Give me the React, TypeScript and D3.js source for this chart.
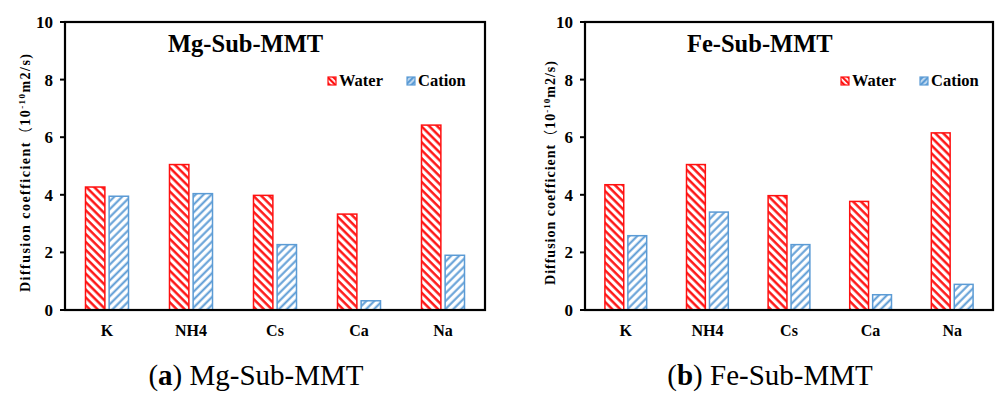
import React from "react";
import * as d3 from "d3";

const categories = ["K", "NH4", "Cs", "Ca", "Na"];
const seriesNames = ["Water", "Cation"];
const mgWater = [4.27, 5.05, 3.98, 3.33, 6.42];
const mgCation = [3.95, 4.04, 2.27, 0.32, 1.9];
const feWater = [4.35, 5.05, 3.97, 3.77, 6.15];
const feCation = [2.58, 3.4, 2.27, 0.53, 0.89];
const yTicks = [0, 2, 4, 6, 8, 10];

const RED = "#ff1010";
const BLUE = "#5b9bd5";
const SERIF = "Liberation Serif, Tinos, Times New Roman, DejaVu Serif, serif";

type PanelProps = {
  left: number;
  right: number;
  title: string;
  titleX: number;
  legendX: number;
  water: number[];
  cation: number[];
  yTitleX: number;
  yTitleLen: number;
  caption: string;
  captionLetter: string;
  captionX: number;
};

function Panel(p: PanelProps) {
  const top = 22;
  const bottom = 310;
  const y = d3.scaleLinear().domain([0, 10]).range([bottom, top]);
  const x0 = d3
    .scaleBand<string>()
    .domain(categories)
    .range([p.left, p.right])
    .paddingInner(0.488)
    .paddingOuter(0.244);
  const x1 = d3
    .scaleBand<string>()
    .domain(seriesNames)
    .range([0, x0.bandwidth()])
    .paddingInner(0.18);
  const series = [
    { name: "Water", vals: p.water, color: RED, pat: "hatchRed" },
    { name: "Cation", vals: p.cation, color: BLUE, pat: "hatchBlue" },
  ];
  const yMid = (top + bottom) / 2 + 7;
  return (
    <g>
      {series.map((s) =>
        categories.map((c, i) => {
          const bx = (x0(c) as number) + (x1(s.name) as number);
          const by = y(s.vals[i]);
          return (
            <rect
              key={s.name + c}
              x={bx}
              y={by}
              width={x1.bandwidth()}
              height={bottom - by}
              fill={`url(#${s.pat})`}
              stroke={s.color}
              strokeWidth={1.5}
            />
          );
        })
      )}
      <rect
        x={p.left}
        y={top}
        width={p.right - p.left}
        height={bottom - top}
        fill="none"
        stroke="#000"
        strokeWidth={2.2}
      />
      {yTicks.map((t) => (
        <g key={t}>
          <line x1={p.left - 5} x2={p.left} y1={y(t)} y2={y(t)} stroke="#000" strokeWidth={2} />
          <text
            x={p.left - 12}
            y={y(t) + 6}
            textAnchor="end"
            fontFamily={SERIF}
            fontWeight="bold"
            fontSize={17}
          >
            {t}
          </text>
        </g>
      ))}
      {categories.map((c) => (
        <text
          key={c}
          x={(x0(c) as number) + x0.bandwidth() / 2}
          y={336}
          textAnchor="middle"
          fontFamily={SERIF}
          fontWeight="bold"
          fontSize={16}
        >
          {c}
        </text>
      ))}
      <text
        x={p.titleX}
        y={52}
        fontFamily={SERIF}
        fontWeight="bold"
        fontSize={24.5}
      >
        {p.title}
      </text>
      {series.map((s, i) => {
        const lx = p.legendX + i * 79;
        return (
          <g key={s.name}>
            <rect x={lx} y={77} width={8} height={8} fill={`url(#${s.pat}L)`} stroke={s.color} strokeWidth={1.2} />
            <text x={lx + 11} y={86} fontFamily={SERIF} fontWeight="bold" fontSize={16.5}>
              {s.name}
            </text>
          </g>
        );
      })}
      <text
        transform={`translate(${p.yTitleX},${yMid}) rotate(-90)`}
        textAnchor="middle"
        fontFamily={SERIF}
        fontWeight="bold"
        fontSize={14}
        textLength={p.yTitleLen}
        lengthAdjust="spacing"
      >
        Diffusion coefficient
        <tspan fontFamily="Noto Sans CJK SC, sans-serif" fontWeight="normal">（</tspan>10
        <tspan fontSize={9} dy={-5}>-10</tspan>
        <tspan dy={5}>m2/s)</tspan>
      </text>
      <text
        x={p.captionX}
        y={385}
        textAnchor="middle"
        fontFamily={SERIF}
        fontSize={29}
      >
        (<tspan fontWeight="bold">{p.captionLetter}</tspan>) {p.caption}
      </text>
    </g>
  );
}

export default function App() {
  return (
    <svg width={995} height={396} style={{ position: "absolute", left: 0, top: 0, background: "#fff" }}>
      <defs>
        <pattern id="hatchRed" patternUnits="userSpaceOnUse" width={5.6} height={5.6} patternTransform="rotate(-45)">
          <rect width={5.6} height={5.6} fill="#fff" />
          <line x1={1.5} y1={0} x2={1.5} y2={5.6} stroke={RED} strokeWidth={2.4} />
        </pattern>
        <pattern id="hatchBlue" patternUnits="userSpaceOnUse" width={5.6} height={5.6} patternTransform="rotate(45)">
          <rect width={5.6} height={5.6} fill="#fff" />
          <line x1={1.5} y1={0} x2={1.5} y2={5.6} stroke={BLUE} strokeWidth={2} />
        </pattern>
        <pattern id="hatchRedL" patternUnits="userSpaceOnUse" width={4} height={4} patternTransform="rotate(-45)">
          <rect width={4} height={4} fill="#fff" />
          <line x1={1} y1={0} x2={1} y2={4} stroke={RED} strokeWidth={2.4} />
        </pattern>
        <pattern id="hatchBlueL" patternUnits="userSpaceOnUse" width={4} height={4} patternTransform="rotate(45)">
          <rect width={4} height={4} fill={BLUE} />
          <line x1={1} y1={0} x2={1} y2={4} stroke="#fff" strokeWidth={1.2} />
        </pattern>
      </defs>
      <Panel
        left={65}
        right={485}
        title="Mg-Sub-MMT"
        titleX={168}
        legendX={328}
        water={mgWater}
        cation={mgCation}
        yTitleX={30}
        yTitleLen={238}
        caption="Mg-Sub-MMT"
        captionLetter="a"
        captionX={256}
      />
      <Panel
        left={585}
        right={993}
        title="Fe-Sub-MMT"
        titleX={687}
        legendX={841}
        water={feWater}
        cation={feCation}
        yTitleX={555}
        yTitleLen={224}
        caption="Fe-Sub-MMT"
        captionLetter="b"
        captionX={770}
      />
    </svg>
  );
}
